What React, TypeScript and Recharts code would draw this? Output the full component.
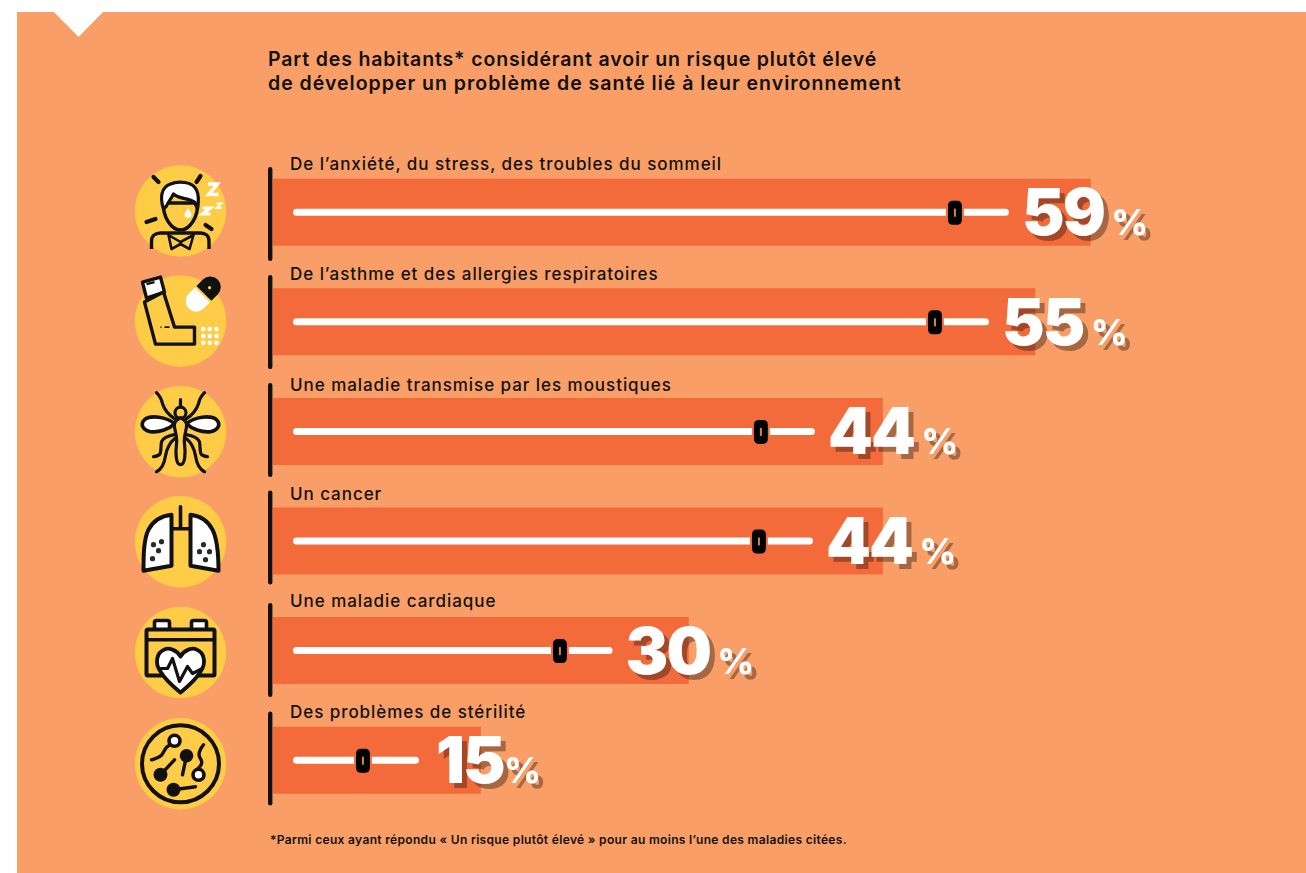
import React from "react";
import { BarChart, Bar, XAxis, YAxis, LabelList } from "recharts";

// Survey answers, in percent of respondents
const categories = [
  "De l’anxiété, du stress, des troubles du sommeil",
  "De l’asthme et des allergies respiratoires",
  "Une maladie transmise par les moustiques",
  "Un cancer",
  "Une maladie cardiaque",
  "Des problèmes de stérilité",
];
const shares = [59, 55, 44, 44, 30, 15];
// Decorative slider inside every bar, on the same percent scale
const sliderEnds = [53.1, 51.66, 39.1, 38.96, 24.5, 10.53];
const sliderKnobs = [49.2, 47.76, 35.2, 35.06, 20.7, 6.49];
const SLIDER_START = 1.44;
const KNOB_HALF = 0.5;

const rows = categories.map((category, i) => ({
  category,
  share: shares[i],
  slider: [SLIDER_START, sliderEnds[i]],
  knob: [sliderKnobs[i] - KNOB_HALF, sliderKnobs[i] + KNOB_HALF],
}));

const W = 1306;
const H = 873;
const FONT = "Inter, 'Noto Sans', sans-serif";
const PANEL = "#F99E66";
const BAR = "#F46B3B";
const YELLOW = "#FECC46";
const INK = "#111111";

// Small per-row nudges for the elements set beside each bar
const iconShift = [-1.5, -1, 0, 0.4, 1.6, 3.3];
const dividerShift = [1.5, 0, -1.7, -3.8, -0.9, -2];
const captionShift = [0, 0, 1.5, 1, -1.5, 0];

const line = { fill: "none", stroke: INK, strokeLinecap: "round", strokeLinejoin: "round" } as const;

function SleepIcon() {
  return (
    <g>
      <g {...line} strokeWidth={4.2}>
        <path d="M-27 -34L-22 -29M20 -35L16 -29M-34 11L-25 8M25 14L31 18" />
      </g>
      <path d="M-17 -8C-18 6 -9 19 0 19C9 19 18 6 17 -8Z" fill={YELLOW} stroke={INK} strokeWidth={3.4} />
      <path
        d="M-17 -2C-21 -14 -19 -24 -10 -27C-3 -30 12 -30 16 -21C19 -15 18 -8 17 -2L14 -9C8 -13 -2 -12 -7 -17C-10 -11 -13 -8 -14 -5Z"
        fill="#fff"
        stroke={INK}
        strokeWidth={3.2}
        strokeLinejoin="round"
      />
      <path d="M7.500 -3C9 0 11 2 11 4C11 6 9 7 7.500 7C6 7 4 6 4 4C4 2 6 0 7.500 -3Z" fill="#fff" />
      <g {...line} strokeWidth={3.4}>
        <path d="M-29 38V30C-29 25 -25 22 -20 22H20C25 22 28.500 25 28.500 30V38" strokeLinecap="butt" />
        <path d="M-12 24L-9 38L0 33L9 38L13 24L0 31Z" strokeWidth={2.6} />
      </g>
      <g fill="none" stroke="#fff" strokeLinejoin="miter">
        <path d="M27.500 -27H37L28 -16.500H38" strokeWidth={3.4} />
        <path d="M22 -3H30L22 3H30" strokeWidth={3} />
        <path d="M36 -7.500H41L36 -3H41" strokeWidth={1.9} />
      </g>
    </g>
  );
}

function InhalerIcon() {
  return (
    <g>
      <path d="M-38 -39L-20 -44L-16 -29L-34 -23Z" fill="#fff" stroke={INK} strokeWidth={3.4} strokeLinejoin="round" />
      <path d="M-34 -37L-26 -39" stroke={INK} strokeWidth={2.2} />
      <path d="M-36 -19L-17 -29L-6 6H14V23H-25Z" fill={YELLOW} stroke={INK} strokeWidth={3.4} strokeLinejoin="round" />
      <path d="M-20 6H-19M-16 6H-11" stroke={INK} strokeWidth={1.6} />
      <g transform="translate(22.700 -27) rotate(-45)">
        <path d="M-1 -10.500H-10A10.500 10.500 0 0 0 -10 10.500H-1Z" fill="#fff" />
        <path d="M1 -10.500H10A10.500 10.500 0 0 1 10 10.500H1Z" fill={INK} />
        <circle cx={9} cy={0} r={1.6} fill={YELLOW} />
      </g>
      <g fill="#fff">
        {[8, 15, 21.7].flatMap((cy) =>
          [22.7, 29.3, 36].map((cx) => <circle key={`${cx}-${cy}`} cx={cx} cy={cy} r={2.3} />),
        )}
      </g>
    </g>
  );
}

function MosquitoIcon() {
  const half = (
    <g>
      <path d="M-6 -8C-14 -15 -30 -17 -36 -12C-41 -7 -37 -1 -30 0C-22 1 -12 -2 -6 -8Z" fill="#fff" stroke={INK} strokeWidth={3.6} strokeLinejoin="round" />
      <path d="M-6 -13C-12 -17 -16 -22 -18 -28C-19 -33 -21 -36 -24 -39" {...line} strokeWidth={3.2} />
      <path d="M-6 3C-12 4 -17 6 -19 10C-20 16 -19 20 -21 23C-23 24 -25 25 -27 25" {...line} strokeWidth={3.2} />
      <path d="M-6 7C-10 10 -14 17 -15 24C-16 31 -18 37 -24 40" {...line} strokeWidth={3.2} />
    </g>
  );
  return (
    <g>
      {half}
      <g transform="scale(-1 1)">{half}</g>
      <path d="M0 -32V-22" {...line} strokeWidth={3.2} />
      <circle cx={0} cy={-19} r={5.500} fill={YELLOW} stroke={INK} strokeWidth={3.2} />
      <path d="M0 -14C-4 -12 -7 -9 -6 -5C-5 2 -3 6 -4 12C-5 20 -5 33 0 33C5 33 5 20 4 12C3 6 5 2 6 -5C7 -9 4 -12 0 -14Z" fill={YELLOW} stroke={INK} strokeWidth={3.2} strokeLinejoin="round" />
    </g>
  );
}

function LungsIcon() {
  const left = [[-27, 3], [-19, 0], [-22, 9], [-28, 17]];
  const right = [[23, 3], [19, 10], [29, 10], [25, 18]];
  return (
    <g>
      <path d="M0 -35V-13M-9 -13H9" {...line} strokeWidth={3.6} />
      <path d="M-9 -27C-18 -26 -27 -22 -32 -12C-37 -2 -37 15 -37 29L-9 24Z" fill="#fff" stroke={INK} strokeWidth={4} strokeLinejoin="round" />
      <path d="M10 -27C19 -26 27 -22 32 -12C37 -2 38 15 38 29L10 24Z" fill="#fff" stroke={INK} strokeWidth={4} strokeLinejoin="round" />
      {[...left, ...right].map(([cx, cy]) => (
        <circle key={`${cx}-${cy}`} cx={cx} cy={cy} r={2.6} fill="#2a2a2a" />
      ))}
    </g>
  );
}

function HeartCalendarIcon() {
  return (
    <g>
      <rect x={-26} y={-32} width={15} height={10} rx={2} fill="#fff" stroke={INK} strokeWidth={3.6} />
      <rect x={11} y={-32} width={15} height={10} rx={2} fill="#fff" stroke={INK} strokeWidth={3.6} />
      <rect x={-34} y={-23} width={68} height={46} rx={1.5} fill={YELLOW} stroke={INK} strokeWidth={4} />
      <path d="M-34 -12.700H34" stroke={INK} strokeWidth={3.4} />
      <path
        d="M0 4C-4 -3 -12 -5 -16 -3C-24 0 -26 11 -20 19C-15 28 -6 35 0 40C6 35 15 28 20 19C26 11 24 0 16 -3C12 -5 4 -3 0 4Z"
        fill="#fff"
        stroke={INK}
        strokeWidth={3.8}
        strokeLinejoin="round"
      />
      <path d="M-22 16H-13L-8 6L-1 29L7 14L12 21L22 16" {...line} strokeWidth={3.2} />
    </g>
  );
}

function MicrobesIcon() {
  return (
    <g>
      <circle r={38.5} fill={YELLOW} stroke={INK} strokeWidth={4} />
      <g {...line} strokeWidth={3.4}>
        <path d="M-12 -18C-15 -17 -16 -13 -18 -10C-20 -6 -24 -6 -29 -4" />
        <path d="M6 -8L2 11" />
        <path d="M-20 11L-6 -4" />
        <path d="M-7 26L15 23" />
        <path d="M16 6C20 3 23 -1 20 -5C17 -9 19 -14 23 -19" />
      </g>
      <circle cx={-6} cy={-23} r={5.500} fill="#fff" stroke={INK} strokeWidth={3.6} />
      <circle cx={18} cy={11} r={5.500} fill="#fff" stroke={INK} strokeWidth={3.6} />
      <circle cx={6} cy={-8} r={6.800} fill={INK} />
      <circle cx={-20} cy={11} r={7} fill={INK} />
      <circle cx={-7} cy={26} r={7} fill={INK} />
    </g>
  );
}

const icons = [SleepIcon, InhalerIcon, MosquitoIcon, LungsIcon, HeartCalendarIcon, MicrobesIcon];

// Left side of each row: badge, divider and the answer's caption
function RowTick(props: any) {
  const { y, index, payload } = props;
  const Icon = icons[index];
  return (
    <g>
      <g transform={`translate(180.500 ${y + iconShift[index]})`}>
        <circle r={45.7} fill={YELLOW} />
        <Icon />
      </g>
      <rect x={268} y={y + dividerShift[index] - 47} width={4.4} height={94} rx={2.2} fill={INK} />
      <text
        x={290}
        y={y - 42.5 + captionShift[index]}
        fontFamily={FONT}
        fontSize={17}
        fontWeight={500}
        letterSpacing={0.95}
        fill={INK}
      >
        {payload.value}
      </text>
    </g>
  );
}

function Knob(props: any) {
  const { x, y, width, height } = props;
  const cx = x + width / 2;
  const cy = y + height / 2;
  return (
    <g>
      <rect x={x - 2} y={y} width={width + 4} height={height} fill={BAR} />
      <rect x={x} y={y} width={width} height={height} rx={4.5} fill="#000" />
      <rect x={cx - 1} y={cy - 4} width={2} height={8} fill="#C9875C" />
    </g>
  );
}

// Big percentage with a hard, unblurred drop shadow
function ShareLabel(props: any) {
  const { x, y, width, height, index } = props;
  const narrow = shares[index] < 20;
  const left = x + width + (narrow ? 17 : 13);
  const base = y + height / 2 + 23;
  return (
    <text
      x={left}
      y={base}
      fontFamily={FONT}
      fill="#fff"
      style={{ filter: "drop-shadow(5px 5px 0 rgba(30, 15, 10, 0.38))" }}
    >
      <tspan fontSize={64} fontWeight={900} letterSpacing={-1.8}>
        {shares[index]}
      </tspan>
      <tspan dx={narrow ? 0 : 7} fontSize={36} fontWeight={800}>
        %
      </tspan>
    </text>
  );
}

export default function App() {
  return (
    <div style={{ position: "absolute", left: 0, top: 0, width: W, height: H, overflow: "hidden", background: "#fff" }}>
      <div
        style={{
          position: "absolute",
          inset: 0,
          background: PANEL,
          clipPath: "polygon(17px 12px, 54px 12px, 78.5px 37px, 103px 12px, 1306px 12px, 1306px 873px, 17px 873px)",
        }}
      />
      <BarChart
        width={W}
        height={H}
        data={rows}
        layout="vertical"
        margin={{ top: 157.7, right: 62.8, bottom: 57.7, left: 272 }}
        style={{ position: "absolute", left: 0, top: 0 }}
      >
        <XAxis type="number" domain={[0, 70]} hide />
        <YAxis
          yAxisId="rows"
          type="category"
          dataKey="category"
          width={1}
          axisLine={false}
          tickLine={false}
          interval={0}
          tick={<RowTick />}
        />
        <YAxis yAxisId="slider" type="category" dataKey="category" hide />
        <YAxis yAxisId="knob" type="category" dataKey="category" hide />
        <Bar yAxisId="rows" dataKey="share" barSize={67} fill={BAR} isAnimationActive={false} />
        <Bar yAxisId="slider" dataKey="slider" barSize={7} radius={3.5} fill="#fff" isAnimationActive={false}>
          <LabelList content={<ShareLabel />} />
        </Bar>
        <Bar yAxisId="knob" dataKey="knob" barSize={24} shape={<Knob />} isAnimationActive={false} />
        <text x={268} y={66} fontFamily={FONT} fontSize={19.500} fontWeight={600} letterSpacing={0.85} fill={INK}>
          Part des habitants* considérant avoir un risque plutôt élevé
        </text>
        <text x={268} y={90} fontFamily={FONT} fontSize={19.500} fontWeight={600} letterSpacing={1} fill={INK}>
          de développer un problème de santé lié à leur environnement
        </text>
        <text x={270} y={844} fontFamily={FONT} fontSize={12} fontWeight={600} letterSpacing={0.33} fill={INK}>
          *Parmi ceux ayant répondu « Un risque plutôt élevé » pour au moins l’une des maladies citées.
        </text>
      </BarChart>
    </div>
  );
}
